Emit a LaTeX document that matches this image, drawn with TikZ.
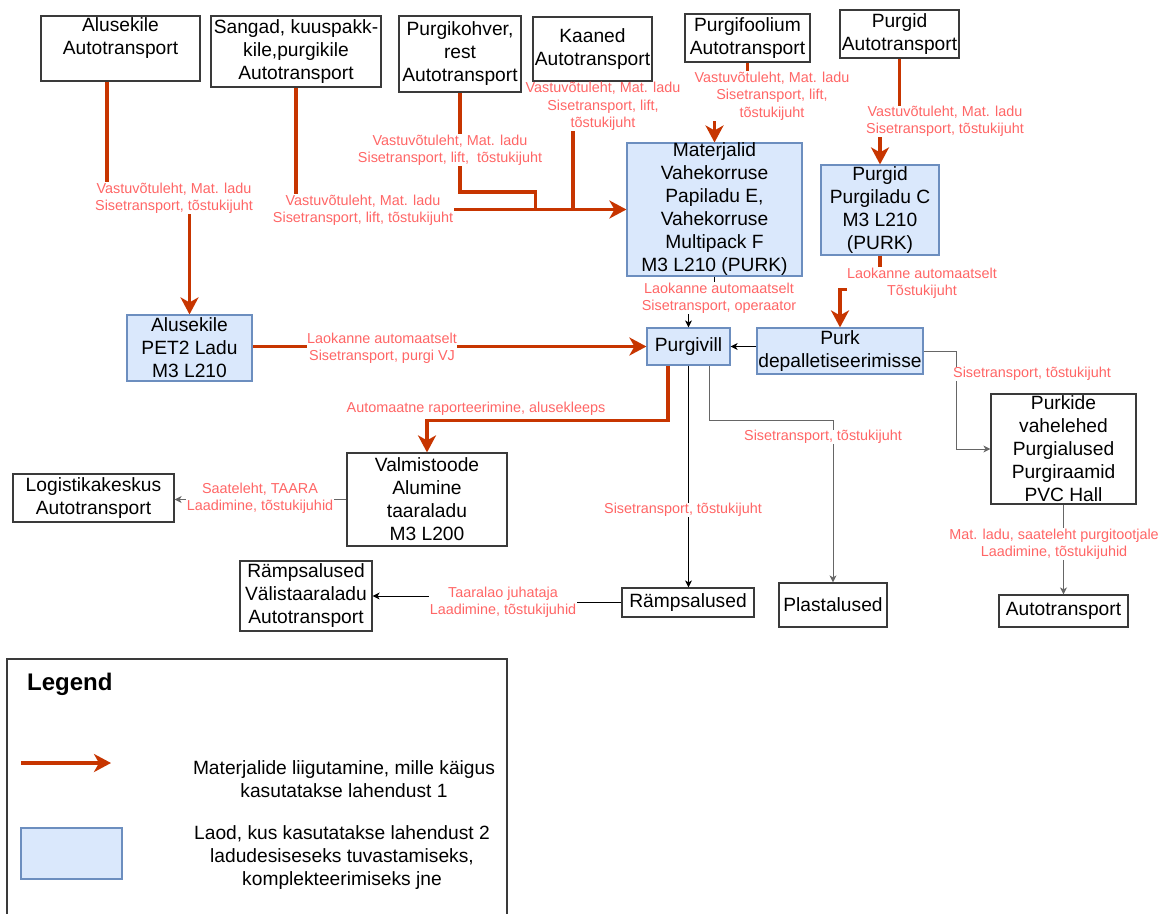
\documentclass[tikz,border=0pt]{standalone}
\usepackage{fontspec}
\setmainfont{Liberation Sans}
\usetikzlibrary{arrows.meta,calc}
\definecolor{redar}{HTML}{C73500}
\definecolor{lblred}{HTML}{FF6666}
\definecolor{bluefill}{HTML}{DAE8FC}
\definecolor{bluedraw}{HTML}{6C8EBF}
\definecolor{boxline}{HTML}{3A3A3A}
\definecolor{grayline}{HTML}{666666}
\newcommand\boxfont{\fontsize{19.2}{23}\selectfont}
\newcommand\lblfont{\fontsize{14.4}{17.3}\selectfont}
\begin{document}
\begin{tikzpicture}[x=1pt,y=-1pt,
  wbox/.style={draw=boxline, line width=1.2pt, fill=white, align=center, inner sep=0pt, font=\boxfont},
  bbox/.style={draw=bluedraw, line width=1.2pt, fill=bluefill, align=center, inner sep=0pt, font=\boxfont},
  btxt/.style={align=center, inner sep=0pt, font=\boxfont},
  lbl/.style={fill=white, text=lblred, align=center, inner sep=0.5pt, font=\lblfont},
  redarrow/.style={draw=redar, line width=3.2pt, -{Stealth[length=17pt,width=18pt,inset=5pt]}},
  redline/.style={draw=redar, line width=3.2pt},
  thinarrow/.style={draw=black, line width=1pt, -{Stealth[length=7pt,width=7pt,inset=2pt]}},
  grayarrow/.style={thinarrow, draw=grayline},
]
\useasboundingbox[fill=white] (0,0) rectangle (1164,913);

% ---- boxes ----
\node[wbox, minimum width=159, minimum height=65] (aluAT) at (120.5,48.5) {};
\node[btxt] (aluATt) at (120.5,38) {Alusekile\\Autotransport};
\node[wbox, minimum width=170, minimum height=71] (sang) at (296,51.5) {Sangad, kuuspakk-\\kile,purgikile\\Autotransport};
\node[wbox, minimum width=122, minimum height=76] (kohv) at (460,54) {Purgikohver,\\rest\\Autotransport};
\node[wbox, minimum width=119, minimum height=64] (kaan) at (592.5,49) {Kaaned\\Autotransport};
\node[wbox, minimum width=125, minimum height=48] (fool) at (747.5,38) {Purgifoolium\\Autotransport};
\node[wbox, minimum width=119, minimum height=48] (purgAT) at (899.5,34) {Purgid\\Autotransport};

\node[bbox, minimum width=175, minimum height=131] (mat) at (714.5,209.5) {Materjalid\\Vahekorruse\\Papiladu E,\\Vahekorruse\\Multipack F\\M3 L210 (PURK)};
\node[bbox, minimum width=118, minimum height=90] (purgC) at (880,210) {Purgid\\Purgiladu C\\M3 L210\\(PURK)};
\node[bbox, minimum width=125, minimum height=66] (pet) at (189.5,348) {Alusekile\\PET2 Ladu\\M3 L210};
\node[bbox, minimum width=83, minimum height=37] (vill) at (688.5,346.5) {Purgivill};
\node[bbox, minimum width=166, minimum height=46] (depal) at (840,351) {Purk\\depalletiseerimisse};

\node[wbox, minimum width=160, minimum height=93] (valm) at (427,499.5) {Valmistoode\\Alumine\\taaraladu\\M3 L200};
\node[wbox, minimum width=161, minimum height=48] (logi) at (93.5,498) {Logistikakeskus\\Autotransport};
\node[wbox, minimum width=132, minimum height=70] (valis) at (306,596) {Rämpsalused\\Välistaaraladu\\Autotransport};
\node[wbox, minimum width=132, minimum height=29] (ramp) at (688,602.5) {Rämpsalused};
\node[wbox, minimum width=108, minimum height=44] (plast) at (833,605) {Plastalused};
\node[wbox, minimum width=145, minimum height=110] (purk) at (1063.5,449) {Purkide\\vahelehed\\Purgialused\\Purgiraamid\\PVC Hall};
\node[wbox, minimum width=129, minimum height=32] (auto) at (1063.5,611) {Autotransport};

% ---- red connectors ----
\draw[redarrow] ([xshift=-13.5pt]aluAT.south) |- ([yshift=117pt]pet.north) -- (pet.north);
\draw[redarrow] (sang.south) |- (mat.west);
\draw[redline] (kohv.south) |- ([xshift=-91pt,yshift=17.5pt]mat.west) -- ([xshift=-91pt]mat.west);
\draw[redline] ([xshift=-19.5pt]kaan.south) -- ([xshift=-19.5pt]kaan.south |- mat.west);
\draw[redarrow] (fool.south) |- ([yshift=48pt]mat.north) -- (mat.north);
\draw[redarrow] (purgAT.south) |- ([yshift=44pt]purgC.north) -- (purgC.north);
\draw[redarrow] (purgC.south) |- ([yshift=38pt]depal.north) -- (depal.north);
\draw[redarrow] (pet.east |- vill.west) -- (vill.west);
\draw[redarrow] ([xshift=-20.5pt]vill.south) |- ([yshift=32pt]valm.north) -- (valm.north);

% ---- thin connectors ----
\draw[thinarrow] (mat.south) |- ([yshift=30pt]vill.north) -- (vill.north);
\draw[thinarrow] (depal.west |- vill.east) -- (vill.east);
\draw[thinarrow] (vill.south) -- (vill.south |- ramp.north);
\draw[grayarrow] ([xshift=20.5pt]vill.south) |- ([yshift=162pt]plast.north) -- (plast.north);
\draw[grayarrow] (depal.east) -| ([xshift=-34pt]purk.west) -- (purk.west);
\draw[grayarrow] (purk.south) -- (auto.north);
\draw[grayarrow] (valm.west) -- (valm.west -| logi.east);
\draw[thinarrow] (ramp.west) -- ++(-119,0) |- (valis.east);

% ---- labels ----
\node[lbl] (l1) at (174,198) {Vastuvõtuleht, Mat. ladu\\Sisetransport, tõstukijuht};
\node[lbl] (l2) at (363,210) {Vastuvõtuleht, Mat. ladu\\Sisetransport, lift, tõstukijuht};
\node[lbl] (l3) at (450,150) {Vastuvõtuleht, Mat. ladu\\Sisetransport, lift,\ \ tõstukijuht};
\node[lbl] (l4) at (603,106.5) {Vastuvõtuleht, Mat. ladu\\Sisetransport, lift,\\tõstukijuht};
\node[lbl] (l5) at (772,96) {Vastuvõtuleht, Mat. ladu\\Sisetransport, lift,\\tõstukijuht};
\node[lbl] (l6) at (945,121.5) {Vastuvõtuleht, Mat. ladu\\Sisetransport, tõstukijuht};
\node[lbl] (l7) at (922,283) {Laokanne automaatselt\\Tõstukijuht};
\node[lbl] (l8) at (382,348) {Laokanne automaatselt\\Sisetransport, purgi VJ};
\node[lbl] (l9) at (476,409) {Automaatne raporteerimine, alusekleeps};
\node[lbl] (l10) at (719,298) {Laokanne automaatselt\\Sisetransport, operaator};
\node[lbl] (l11) at (683,510) {Sisetransport, tõstukijuht};
\node[lbl] (l12) at (823,437) {Sisetransport, tõstukijuht};
\node[lbl] (l13) at (1032,374) {Sisetransport, tõstukijuht};
\node[lbl] (l14) at (1054,544) {Mat. ladu, saateleht purgitootjale\\Laadimine, tõstukijuhid};
\node[lbl] (l15) at (260,498) {Saateleht, TAARA\\Laadimine, tõstukijuhid};
\node[lbl] (l16) at (503,602) {Taaralao juhataja\\Laadimine, tõstukijuhid};

% ---- legend ----
\node[draw=boxline, line width=1.2pt, minimum width=500, minimum height=280] (legend) at (257,799) {};
\node[anchor=west, inner sep=0pt, font=\fontsize{24}{28}\selectfont\bfseries] (legt) at (27,684) {Legend};
\coordinate (la1) at (21,763);
\coordinate (la2) at (111,763);
\draw[redarrow] (la1) -- (la2);
\node[btxt] (legt1) at (344,779) {Materjalide liigutamine, mille käigus\\kasutatakse lahendust 1};
\node[draw=bluedraw, line width=1.2pt, fill=bluefill, minimum width=101, minimum height=51] (legb) at (71.5,853.5) {};
\node[btxt] (legt2) at (342,858) {Laod, kus kasutatakse lahendust 2\\ladudesiseseks tuvastamiseks,\\komplekteerimiseks jne};
\end{tikzpicture}
\end{document}
